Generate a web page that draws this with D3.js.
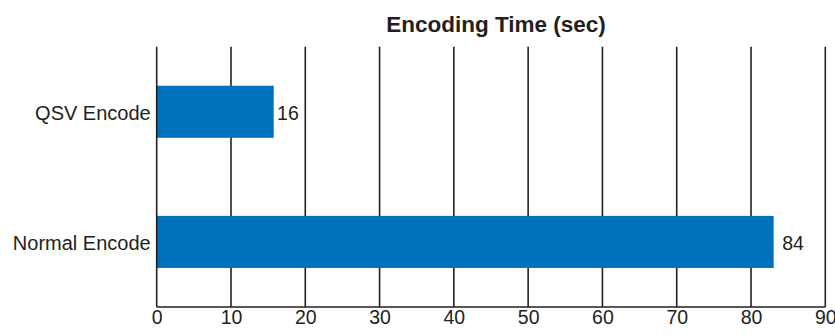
<!DOCTYPE html>
<html>
<head>
<meta charset="utf-8">
<script src="https://cdn.jsdelivr.net/npm/d3@7"></script>
<style>
html,body{margin:0;padding:0;background:#fff;}
svg{display:block;font-family:"Liberation Sans",Arial,Helvetica,sans-serif;}
</style>
</head>
<body>
<svg id="chart" width="835" height="335"></svg>
<script>
const categories = ["QSV Encode", "Normal Encode"];
const barValues = [15.75, 83.05];      // bar lengths as drawn
const valueLabels = [16, 84];          // printed values
const xTicks = [0, 10, 20, 30, 40, 50, 60, 70, 80, 90];
const title = "Encoding Time (sec)";

const W = 835, H = 335;
const m = {left: 156.7, right: 825.3, top: 46.7, bottom: 307};
const ink = "#231f20";
const blue = "#0071bb";

const svg = d3.select("#chart");

const x = d3.scaleLinear().domain([0, 90]).range([m.left, m.right]);
const y = d3.scaleBand().domain(categories).range([m.top, m.bottom])
  .paddingInner(0.6).paddingOuter(0.3);

// title
svg.append("text")
  .attr("x", 496).attr("y", 31.5)
  .attr("text-anchor", "middle")
  .attr("font-weight", "bold")
  .attr("font-size", 22.5)
  .attr("fill", ink)
  .text(title);

// gridlines (except 0, drawn later on top)
svg.append("g").selectAll("line")
  .data(xTicks.filter(d => d !== 0))
  .join("line")
  .attr("x1", d => x(d)).attr("x2", d => x(d))
  .attr("y1", m.top).attr("y2", m.bottom)
  .attr("stroke", ink).attr("stroke-width", 1.6);

// bars
const data = categories.map((c, i) => ({c, v: barValues[i], lab: valueLabels[i]}));
svg.append("g").selectAll("rect")
  .data(data)
  .join("rect")
  .attr("x", x(0))
  .attr("y", d => y(d.c))
  .attr("width", d => x(d.v) - x(0))
  .attr("height", y.bandwidth())
  .attr("fill", blue);

// zero line
svg.append("line")
  .attr("x1", x(0)).attr("x2", x(0))
  .attr("y1", m.top).attr("y2", m.bottom)
  .attr("stroke", ink).attr("stroke-width", 1.6);

// bottom axis
const xAxis = d3.axisBottom(x).tickValues(xTicks).tickSize(0).tickPadding(0);
const gx = svg.append("g").attr("transform", `translate(0,${m.bottom})`).call(xAxis);
gx.select(".domain").attr("stroke", ink).attr("stroke-width", 1.6)
  .attr("d", `M${x(0)},0H${x(90)}`);
gx.selectAll("text")
  .attr("y", 16.5).attr("dy", null)
  .attr("font-size", 19.5)
  .attr("font-family", '"Liberation Sans",Arial,Helvetica,sans-serif')
  .attr("fill", ink);

// category labels
const yAxis = d3.axisLeft(y).tickSize(0).tickPadding(0);
const gy = svg.append("g").attr("transform", `translate(${m.left - 6},0)`).call(yAxis);
gy.select(".domain").remove();
gy.selectAll("text")
  .attr("x", 0).attr("dy", 8.5)
  .attr("font-size", 20)
  .attr("font-family", '"Liberation Sans",Arial,Helvetica,sans-serif')
  .attr("fill", ink);

// value labels
svg.append("g").selectAll("text")
  .data(data)
  .join("text")
  .attr("x", d => x(d.lab) + 1.5)
  .attr("y", d => y(d.c) + y.bandwidth() / 2 + 8.5)
  .attr("font-size", 19.5)
  .attr("fill", ink)
  .text(d => d.lab);
</script>
</body>
</html>
